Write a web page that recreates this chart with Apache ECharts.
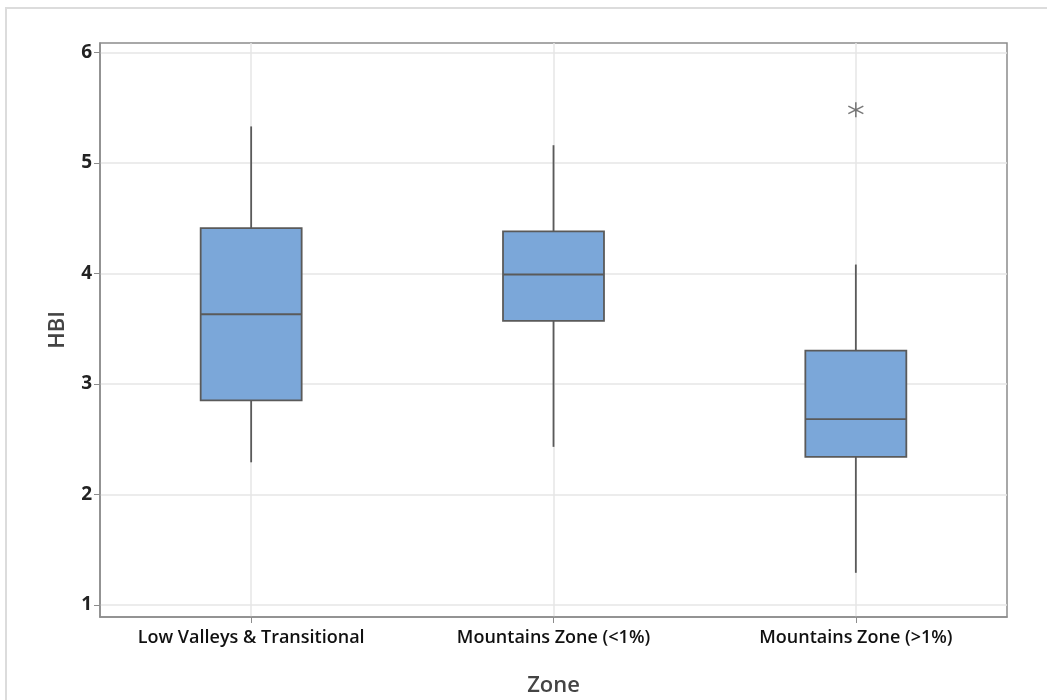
<!DOCTYPE html>
<html>
<head>
<meta charset="utf-8">
<script src="https://cdn.jsdelivr.net/npm/echarts@6/dist/echarts.min.js"></script>
<style>
html,body{margin:0;padding:0;background:#fff;}
#chart{width:1047px;height:700px;}
</style>
</head>
<body>
<div id="chart"></div>
<script>
const categories = ['Low Valleys & Transitional', 'Mountains Zone (<1%)', 'Mountains Zone (>1%)'];
// box statistics per category
const boxLow = [2.29, 2.43, 1.29];
const boxQ1 = [2.85, 3.57, 2.34];
const boxMedian = [3.63, 3.99, 2.68];
const boxQ3 = [4.41, 4.38, 3.30];
const boxHigh = [5.33, 5.16, 4.08];
const outliers = [[2, 5.48]];
const yTicks = [1, 2, 3, 4, 5, 6];

const boxData = categories.map((c, i) => [i, boxLow[i], boxQ1[i], boxMedian[i], boxQ3[i], boxHigh[i]]);

const chart = echarts.init(document.getElementById('chart'));
const font = '"Open Sans", "Noto Sans", sans-serif';
const edge = '#5a5a5a';

function renderBox(params, api) {
  const idx = api.value(0);
  const band = api.size([1, 0])[0];
  const half = band * 0.334 / 2;
  const pLow = api.coord([idx, api.value(1)]);
  const pQ1 = api.coord([idx, api.value(2)]);
  const pMed = api.coord([idx, api.value(3)]);
  const pQ3 = api.coord([idx, api.value(4)]);
  const pHigh = api.coord([idx, api.value(5)]);
  const x = pQ1[0];
  const ls = {stroke: edge, lineWidth: 1.8};
  return {
    type: 'group',
    children: [
      {type: 'line', shape: {x1: x, y1: pHigh[1], x2: x, y2: pQ3[1]}, style: ls},
      {type: 'line', shape: {x1: x, y1: pQ1[1], x2: x, y2: pLow[1]}, style: ls},
      {type: 'rect', shape: {x: x - half, y: pQ3[1], width: half * 2, height: pQ1[1] - pQ3[1]},
        style: {fill: '#7ba7d9', stroke: edge, lineWidth: 1.8}},
      {type: 'line', shape: {x1: x - half, y1: pMed[1], x2: x + half, y2: pMed[1]}, style: ls}
    ]
  };
}

chart.setOption({
  animation: false,
  backgroundColor: '#fff',
  graphic: [{
    type: 'rect', shape: {x: 6, y: 8, width: 1100, height: 750},
    style: {fill: 'none', stroke: '#dcdcdc', lineWidth: 2}, silent: true, z: -10
  }],
  grid: {left: 100, top: 43, right: 40, bottom: 83, outerBoundsMode: 'none', containLabel: false,
    show: true, borderColor: '#8c8c8c', borderWidth: 1.5, backgroundColor: 'transparent'},
  xAxis: {
    type: 'category',
    data: categories,
    boundaryGap: true,
    name: 'Zone',
    nameLocation: 'middle',
    nameGap: 58,
    nameTextStyle: {fontFamily: font, fontSize: 22, color: '#444', fontWeight: 600},
    axisLine: {show: true, lineStyle: {color: '#8c8c8c', width: 1.5}},
    axisTick: {show: true, alignWithLabel: true, length: 6, lineStyle: {color: '#8c8c8c'}},
    axisLabel: {fontFamily: font, fontSize: 18, color: '#111', fontWeight: 600, margin: 12},
    splitLine: {show: true, alignWithLabel: true, lineStyle: {color: '#e6e6e6', width: 1.5}}
  },
  yAxis: {
    type: 'value',
    min: 0.89,
    max: 6.085,
    name: 'HBI',
    nameLocation: 'middle',
    nameGap: 31,
    nameTextStyle: {fontFamily: font, fontSize: 22, color: '#444', fontWeight: 600},
    axisLine: {show: true, lineStyle: {color: '#8c8c8c', width: 1.5}},
    axisTick: {show: true, length: 6, customValues: yTicks, lineStyle: {color: '#8c8c8c'}},
    axisLabel: {fontFamily: font, fontSize: 19, color: '#222', fontWeight: 700, margin: 8, customValues: yTicks},
    splitLine: {show: true, lineStyle: {color: '#e6e6e6', width: 1.5}}
  },
  series: [{
    type: 'custom',
    data: boxData,
    renderItem: renderBox,
    encode: {x: 0, y: [1, 2, 3, 4, 5]},
    silent: true
  }, {
    type: 'scatter',
    data: outliers,
    symbol: 'path://M0,-1L0,1M-0.866,-0.5L0.866,0.5M-0.866,0.5L0.866,-0.5',
    symbolSize: 15,
    itemStyle: {color: 'none', borderColor: '#555', borderWidth: 1.5},
    silent: true
  }]
});
</script>
</body>
</html>
